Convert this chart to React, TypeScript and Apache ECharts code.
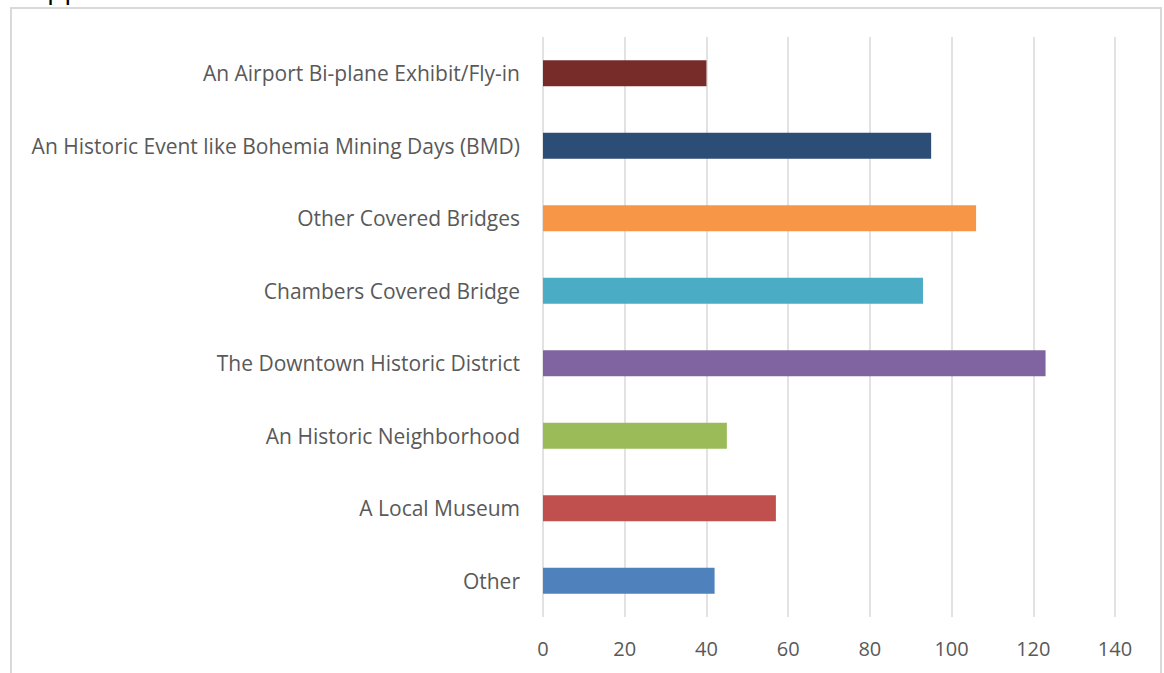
import React, { useEffect, useRef } from "react";
import * as echarts from "echarts";

const categories = [
  "Other",
  "A Local Museum",
  "An Historic Neighborhood",
  "The Downtown Historic District",
  "Chambers Covered Bridge",
  "Other Covered Bridges",
  "An Historic Event like Bohemia Mining Days (BMD)",
  "An Airport Bi-plane Exhibit/Fly-in",
];
const values = [42, 57, 45, 123, 93, 106, 95, 40];
const colors = [
  "#4F81BD",
  "#C0504D",
  "#9BBB59",
  "#8064A2",
  "#4BACC6",
  "#F79646",
  "#2C4D75",
  "#772C2A",
];
const xTicks = { min: 0, max: 140, interval: 20 };

export default function App() {
  const ref = useRef<HTMLDivElement>(null);
  useEffect(() => {
    if (!ref.current) return;
    const chart = echarts.init(ref.current, undefined, { renderer: "svg" });
    const font = "'Open Sans', 'Noto Sans', sans-serif";
    chart.setOption({
      animation: false,
      backgroundColor: "#ffffff",
      grid: { left: 543, right: 49, top: 37, bottom: 56, containLabel: false },
      xAxis: {
        type: "value",
        min: xTicks.min,
        max: xTicks.max,
        interval: xTicks.interval,
        axisLine: { show: false },
        axisTick: { show: false },
        axisLabel: { color: "#595959", fontSize: 20, fontFamily: font, margin: 21 },
        splitLine: { show: true, lineStyle: { color: "#d9d9d9", width: 1.5 } },
      },
      yAxis: {
        type: "category",
        data: categories,
        axisLine: { show: false },
        axisTick: { show: false },
        axisLabel: { color: "#595959", fontSize: 21, fontFamily: font, margin: 23 },
        splitLine: { show: false },
      },
      series: [
        {
          type: "bar",
          barWidth: "36%",
          data: values.map((v, i) => ({ value: v, itemStyle: { color: colors[i] } })),
        },
      ],
      graphic: [
        {
          type: "rect",
          shape: { x: 11, y: 8, width: 1150, height: 700 },
          style: { fill: "none", stroke: "#d9d9d9", lineWidth: 2 },
          silent: true,
        },
        {
          type: "text",
          x: 47,
          y: 1,
          style: {
            text: "pp",
            fontSize: 28,
            fontFamily: font,
            fill: "#000000",
            verticalAlign: "bottom",
          },
          silent: true,
        },
      ],
    });
    return () => chart.dispose();
  }, []);
  return (
    <div
      ref={ref}
      style={{ position: "absolute", left: 0, top: 0, width: 1164, height: 673 }}
    />
  );
}
